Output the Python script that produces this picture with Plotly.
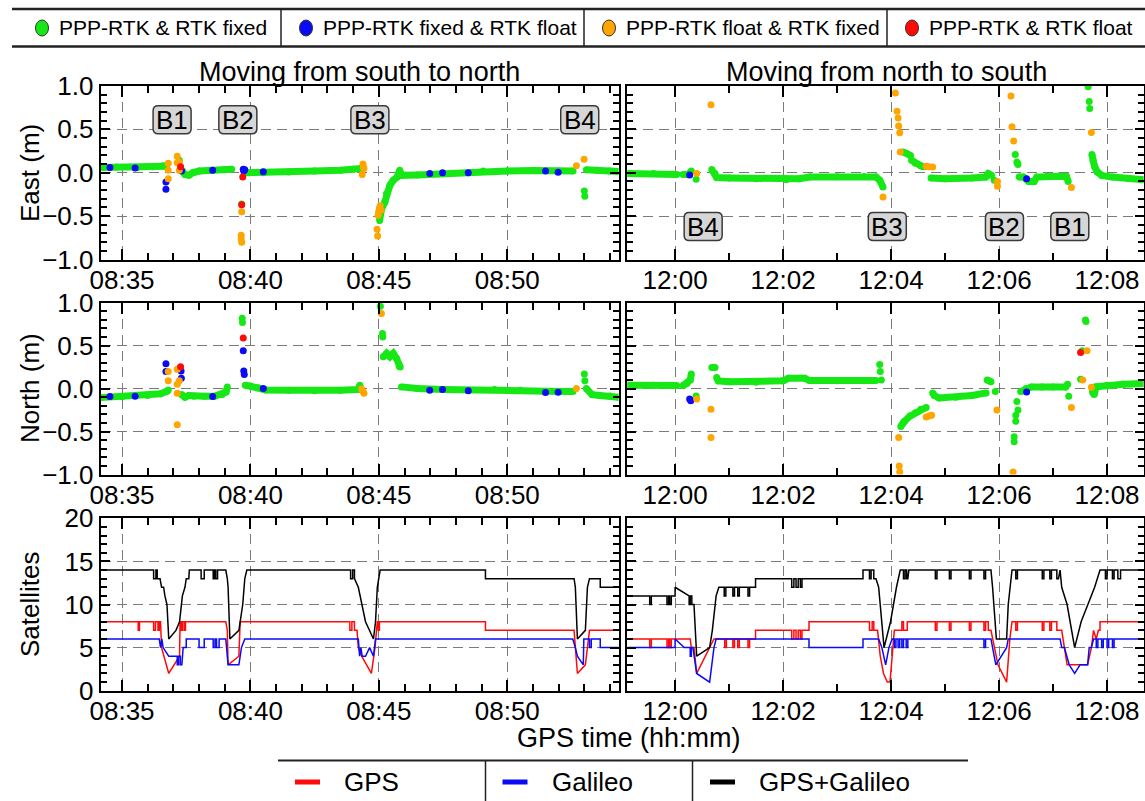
import pandas as pd
import plotly.graph_objects as go

FONT = "Liberation Sans, Arial, Helvetica, sans-serif"
W, H = 1145, 801
DAY = "2021-03-01"
BASE_L = pd.Timestamp(f"{DAY} 08:35:00")   # left column: minutes after 08:35
BASE_R = pd.Timestamp(f"{DAY} 12:00:00")   # right column: minutes after 12:00

GREEN, BLUE, ORANGE, RED = "#16e816", "#0a0af5", "#ffa500", "#ff0a0a"

# ---------------- data: (minutes, value) pairs, None = gap ----------------
# East, south->north (left)
east_l_fix = [(-0.83, 0.06), (-0.2, 0.065), (0.6, 0.06), (1.2, 0.07), (1.6, 0.08), (1.72, 0.075), None,
              (2.23, 0.145), None,
              (2.28, 0.05), (2.35, 0.02), (2.45, -0.02), (2.6, -0.03), (2.75, 0.0), (3.0, 0.02), (3.5, 0.03),
              (4.0, 0.035), (4.27, 0.04), None,
              (4.66, -0.36), None,
              (4.8, 0.0), (5.5, 0.0), (6.5, 0.01), (7.5, 0.02), (8.5, 0.03), (9.0, 0.04), (9.3, 0.05), None,
              (10.03, -0.55), (10.1, -0.42), (10.23, -0.34), (10.3, -0.24), (10.43, -0.145), (10.56, -0.087),
              (10.71, -0.05), (10.81, 0.03), (10.88, -0.03), (11.5, -0.025), (12.5, -0.01), (13.5, 0.0),
              (14.06, 0.02), (15.0, 0.02), (16.0, 0.025), (17.0, 0.02), (17.56, 0.02), None,
              (18.0, -0.21), None, (18.02, -0.27), None,
              (18.08, 0.035), (18.5, 0.03), (19.0, 0.02), (19.33, 0.015)]
east_l_pppfix_rtkfloat = [(-0.47, 0.06), (0.51, 0.056), (1.71, -0.106), (1.71, -0.19), (2.32, 0.02), (3.53, 0.03),
                          (4.72, 0.04), (4.74, 0.02), (4.78, 0.035), (5.5, 0.012), (11.98, -0.01), (12.48, 0.0),
                          (13.48, 0.0), (16.49, 0.02), (16.98, 0.005)]
east_l_pppfloat_rtkfix = [(1.8, 0.11), (1.8, 0.03), (1.8, -0.07), (2.15, 0.19), (2.15, 0.115), (2.23, 0.125),
                          (2.23, 0.03), (4.64, -0.72), (4.64, -0.76), (4.66, -0.8), (4.66, -0.45), (9.35, -0.02),
                          (9.38, 0.1), (9.4, 0.07), (9.42, 0.05), (9.93, -0.65), (9.95, -0.73), (9.97, -0.49),
                          (9.99, -0.45), (10.02, -0.41), (10.05, -0.38), (10.08, -0.43), (17.69, 0.08), (17.99, 0.155)]
east_l_float = [(2.28, 0.07), (4.66, -0.37), (4.70, -0.05)]

# East, north->south (right)
east_r_fix = [(-0.88, -0.01), (-0.4, -0.01), (0.0, -0.02), (0.03, -0.02), None,
              (0.15, -0.02), (0.25, -0.02), (0.3, 0.02), None,
              (0.39, -0.075), None,
              (0.68, 0.037), (0.74, -0.01), (0.77, -0.056), (1.0, -0.06), (1.5, -0.07), (2.06, -0.08), (2.3, -0.07),
              (2.49, -0.05), (3.0, -0.045), (3.5, -0.045), (3.72, -0.05), (3.79, -0.087), (3.85, -0.165), None,
              (4.22, 0.24), (4.3, 0.22), (4.36, 0.2), None,
              (4.38, 0.145), (4.45, 0.11), (4.55, 0.08), (4.6, 0.07), None,
              (4.74, -0.06), (5.0, -0.07), (5.5, -0.06), (5.75, -0.05), (5.8, -0.01), (5.86, -0.03), None,
              (5.91, -0.087), None,
              (6.30, 0.21), None,
              (6.33, 0.125), (6.35, 0.095), None,
              (6.37, -0.05), (6.45, -0.05), (6.55, -0.1), (6.65, -0.1), (6.7, -0.05), (6.9, -0.04), (7.1, -0.04),
              (7.25, -0.045), (7.28, -0.1), None,
              (7.65, 0.99), None, (7.67, 0.82), None, (7.68, 0.74), None,
              (7.72, 0.21), (7.74, 0.14), (7.77, 0.07), (7.82, 0.01), (7.9, -0.03), (8.1, -0.05), (8.4, -0.07),
              (8.68, -0.08)]
east_r_pppfix_rtkfloat = [(0.27, -0.025), (6.51, -0.07)]
east_r_pppfloat_rtkfix = [(0.40, -0.01), (0.665, 0.785), (3.85, -0.28), (4.08, 0.92), (4.11, 0.71), (4.13, 0.63),
                          (4.14, 0.54), (4.16, 0.46), (4.17, 0.24), (4.65, 0.075), (4.7, 0.07), (4.77, 0.065),
                          (5.97, -0.1), (5.97, -0.155), (6.22, 0.885), (6.24, 0.53), (6.27, 0.365), (7.34, -0.17),
                          (7.71, 0.465)]
east_r_float = []

# North, south->north (left)
north_l_fix = [(-0.83, -0.105), (0.0, -0.095), (1.0, -0.08), (1.5, -0.06), (1.75, -0.03), (1.8, -0.015), None,
               (2.32, -0.07), (2.45, -0.1), (2.6, -0.08), (2.8, -0.09), (3.2, -0.09), (3.6, -0.09), (3.9, -0.07),
               (4.05, -0.04), (4.1, 0.02), None,
               (4.68, 0.82), None, (4.69, 0.77), None,
               (4.8, 0.04), (5.0, 0.03), (5.3, 0.01), (5.6, -0.015), (6.5, -0.02), (7.5, -0.025), (8.5, -0.02),
               (9.2, -0.01), (9.26, 0.04), None,
               (10.06, 0.96), None, (10.14, 0.64), None, (10.15, 0.6), None,
               (10.17, 0.37), (10.3, 0.41), (10.43, 0.37), (10.56, 0.41), (10.69, 0.35), (10.79, 0.26),
               (10.83, 0.25), None,
               (10.88, 0.02), (11.5, 0.0), (12.5, -0.01), (13.5, -0.02), (14.5, -0.01), (15.5, -0.02),
               (16.5, -0.03), (17.56, -0.035), None,
               (18.0, 0.17), None, (18.02, 0.09), None,
               (18.08, 0.0), (18.3, -0.07), (18.6, -0.08), (19.0, -0.085), (19.33, -0.1)]
north_l_pppfix_rtkfloat = [(-0.47, -0.093), (0.51, -0.09), (1.71, 0.29), (1.71, 0.2), (2.30, 0.205), (2.31, 0.12),
                           (3.53, -0.093), (4.72, 0.44), (4.74, 0.205), (4.76, 0.165), (5.5, 0.0), (11.98, -0.02),
                           (12.48, -0.01), (13.48, -0.025), (16.49, -0.045), (16.98, -0.042)]
north_l_pppfloat_rtkfix = [(1.8, 0.2), (1.8, 0.09), (2.15, 0.225), (2.15, 0.05), (2.15, -0.055), (2.15, -0.42),
                           (2.23, 0.09), (9.33, -0.005), (9.38, -0.03), (9.42, -0.055), (10.1, 0.875), (17.69, 0.0)]
north_l_float = [(2.28, 0.255), (4.72, 0.59)]

# North, north->south (right)
north_r_fix = [(-0.88, 0.04), (-0.4, 0.04), (0.03, 0.035), None,
               (0.15, 0.035), (0.22, 0.06), (0.28, 0.1), (0.3, 0.17), None,
               (0.39, -0.085), None,
               (0.68, 0.245), (0.74, 0.245), None,
               (0.77, 0.13), (0.8, 0.09), (1.0, 0.08), (1.5, 0.075), (2.0, 0.09), (2.1, 0.12), (2.4, 0.12),
               (2.49, 0.093), (3.0, 0.09), (3.5, 0.09), (3.72, 0.095), None,
               (3.79, 0.28), None, (3.8, 0.2), None, (3.82, 0.1), None,
               (4.18, -0.44), (4.22, -0.4), (4.25, -0.38), (4.35, -0.32), (4.45, -0.28), (4.55, -0.24),
               (4.65, -0.22), None,
               (4.77, -0.05), (4.8, -0.08), (4.89, -0.11), (5.2, -0.1), (5.5, -0.08), (5.76, -0.05), None,
               (5.78, 0.1), (5.85, 0.08), None,
               (5.93, -0.035), None,
               (6.28, -0.56), None, (6.28, -0.62), None, (6.31, -0.31), None, (6.31, -0.38), None,
               (6.33, -0.15), None, (6.35, -0.25), None,
               (6.4, -0.035), (6.5, 0.0), (6.6, 0.02), (6.8, 0.02), (7.0, 0.02), (7.23, 0.02), (7.27, 0.05), None,
               (7.29, -0.09), None, (7.51, 0.11), None, (7.54, 0.44), None, (7.6, 0.8), None, (7.61, 0.78), None,
               (7.73, -0.04), (7.76, -0.07), (7.8, 0.02), (8.0, 0.04), (8.3, 0.05), (8.68, 0.06)]
north_r_pppfix_rtkfloat = [(0.27, -0.12), (0.29, -0.14), (6.51, -0.04)]
north_r_pppfloat_rtkfix = [(0.40, -0.12), (0.665, -0.24), (0.665, -0.57), (4.14, -0.57), (4.15, -0.9),
                           (4.16, -0.97), (4.65, -0.33), (4.7, -0.32), (4.75, -0.31), (5.96, -0.25), (6.26, -0.97),
                           (7.34, -0.22), (7.55, 0.1), (7.63, 0.44), (7.71, 0.015)]
north_r_float = [(7.51, 0.42)]

# Satellites, left
sat_l_all = [(-0.83, 14), (1.23, 14), (1.23, 13), (1.32, 13), (1.32, 14), (1.37, 14), (1.37, 13), (1.48, 13),
             (1.54, 12), (1.62, 12), (1.67, 11), (1.75, 10), (1.82, 6), (2.1, 7), (2.24, 8), (2.3, 10), (2.35, 11),
             (2.45, 12), (2.5, 13), (2.6, 13), (2.62, 14), (3.08, 14), (3.08, 13), (3.2, 13), (3.2, 14), (3.55, 14),
             (3.55, 13), (3.6, 13), (3.6, 14), (3.65, 14), (3.65, 13), (3.72, 13), (3.72, 14), (4.04, 14),
             (4.1, 13), (4.13, 12), (4.2, 6), (4.55, 7), (4.6, 8), (4.7, 10), (4.78, 13), (4.86, 14), (8.9, 14),
             (8.9, 13), (8.98, 13), (8.98, 14), (9.05, 14), (9.05, 13), (9.2, 12), (9.33, 10), (9.4, 9), (9.48, 8),
             (9.79, 6), (9.87, 8), (9.94, 12), (10.0, 13), (10.05, 14), (14.15, 14), (14.15, 13), (17.6, 13),
             (17.65, 12), (17.73, 6), (18.04, 7), (18.12, 12), (18.2, 13), (18.62, 13), (18.62, 12), (19.33, 12)]
sat_l_gps = [(-0.83, 8), (0.63, 8), (0.63, 7), (0.68, 7), (0.68, 8), (1.23, 8), (1.23, 7), (1.3, 7), (1.3, 8),
             (1.4, 8), (1.4, 7), (1.45, 7), (1.45, 8), (1.5, 8), (1.54, 5), (1.82, 2), (2.24, 4), (2.26, 8),
             (2.3, 8), (2.3, 7), (2.35, 7), (2.35, 8), (2.42, 8), (2.42, 7), (2.47, 7), (2.47, 8), (4.04, 8),
             (4.1, 7), (4.13, 3), (4.55, 4), (4.6, 8), (8.87, 8), (8.87, 7), (8.95, 7), (8.95, 8), (9.05, 8),
             (9.05, 7), (9.15, 7), (9.2, 5), (9.33, 4), (9.71, 2), (9.85, 5), (9.94, 8), (9.98, 8), (9.98, 7),
             (10.02, 7), (10.02, 8), (14.15, 8), (14.15, 7), (17.6, 7), (17.73, 2), (18.04, 3), (18.2, 7),
             (19.33, 7)]
sat_l_gal = [(-0.83, 6), (1.45, 6), (1.5, 5), (1.55, 6), (1.6, 5), (1.82, 4), (2.15, 4), (2.15, 3), (2.2, 3),
             (2.2, 4), (2.27, 4), (2.27, 3), (2.33, 3), (2.38, 5), (2.5, 5), (2.5, 6), (3.0, 6), (3.0, 5), (3.2, 5),
             (3.2, 6), (3.55, 6), (3.55, 5), (3.62, 5), (3.62, 6), (3.68, 6), (3.68, 5), (3.78, 5), (3.78, 6),
             (4.04, 6), (4.13, 3), (4.55, 3), (4.6, 4), (4.65, 5), (4.78, 6), (9.2, 6), (9.25, 4), (9.3, 5),
             (9.35, 4), (9.48, 4), (9.64, 5), (9.79, 4), (9.87, 6), (17.55, 6), (17.65, 5), (17.73, 4), (17.96, 3),
             (17.98, 6), (18.2, 6), (18.2, 5), (18.27, 5), (18.27, 6), (18.62, 6), (18.62, 5), (19.33, 5)]

# Satellites, right
sat_r_all = [(-0.88, 11), (-0.47, 11), (-0.47, 10), (-0.44, 10), (-0.44, 11), (-0.15, 11), (-0.15, 10), (-0.12, 10),
             (-0.12, 11), (-0.1, 11), (-0.1, 10), (-0.07, 10), (-0.07, 11), (0.0, 11), (0.0, 12), (0.24, 11),
             (0.26, 11), (0.26, 10), (0.28, 10), (0.28, 11), (0.31, 11), (0.31, 10), (0.35, 10), (0.4, 4),
             (0.64, 5), (0.69, 7), (0.72, 9), (0.76, 11), (0.81, 12), (0.91, 12), (0.91, 11), (0.94, 11),
             (0.94, 12), (1.07, 12), (1.07, 11), (1.1, 11), (1.1, 12), (1.16, 12), (1.16, 11), (1.19, 11),
             (1.19, 12), (1.35, 12), (1.35, 11), (1.38, 11), (1.38, 12), (1.49, 12), (1.49, 13), (2.16, 13),
             (2.16, 12), (2.2, 12), (2.2, 13), (2.24, 13), (2.24, 12), (2.28, 12), (2.28, 13), (2.32, 13),
             (2.32, 12), (2.35, 12), (2.35, 13), (3.48, 13), (3.48, 14), (3.6, 14), (3.6, 13), (3.63, 13),
             (3.63, 14), (3.68, 14), (3.68, 13), (3.72, 13), (3.77, 12), (3.83, 8), (3.87, 5), (3.99, 8),
             (4.04, 10), (4.1, 12), (4.17, 14), (4.23, 14), (4.23, 13), (4.26, 13), (4.26, 14), (4.29, 14),
             (4.29, 13), (4.31, 13), (4.33, 14), (4.82, 14), (4.82, 13), (4.85, 13), (4.85, 14), (5.08, 14),
             (5.08, 13), (5.11, 13), (5.11, 14), (5.45, 14), (5.45, 13), (5.48, 13), (5.48, 14), (5.72, 14),
             (5.72, 13), (5.75, 13), (5.75, 14), (5.85, 14), (5.88, 12), (5.95, 6), (6.14, 6), (6.17, 10),
             (6.24, 14), (6.31, 14), (6.31, 13), (6.34, 13), (6.34, 14), (6.8, 14), (6.8, 13), (6.83, 13),
             (6.83, 14), (6.94, 14), (6.94, 13), (6.97, 13), (6.97, 14), (7.07, 14), (7.07, 13), (7.1, 13),
             (7.13, 14), (7.16, 12), (7.26, 10), (7.4, 5), (7.52, 8), (7.64, 10), (7.77, 12), (7.87, 14),
             (7.97, 14), (7.97, 13), (8.0, 13), (8.0, 14), (8.1, 14), (8.1, 13), (8.13, 13), (8.13, 14),
             (8.2, 14), (8.2, 13), (8.25, 13), (8.25, 14), (8.68, 14)]
sat_r_gps = [(-0.88, 6), (-0.47, 6), (-0.47, 5), (-0.44, 5), (-0.44, 6), (-0.15, 6), (-0.15, 5), (-0.12, 5),
             (-0.12, 6), (-0.1, 6), (-0.1, 5), (-0.07, 5), (-0.07, 6), (0.28, 6), (0.3, 5), (0.35, 5), (0.4, 2),
             (0.64, 5), (0.72, 6), (0.92, 6), (0.92, 5), (0.95, 5), (0.95, 6), (1.07, 6), (1.07, 5), (1.1, 5),
             (1.1, 6), (1.16, 6), (1.16, 5), (1.19, 5), (1.19, 6), (1.35, 6), (1.35, 5), (1.38, 5), (1.38, 6),
             (1.49, 6), (1.49, 7), (2.16, 7), (2.16, 6), (2.2, 6), (2.2, 7), (2.24, 7), (2.24, 6), (2.28, 6),
             (2.28, 7), (2.32, 7), (2.32, 6), (2.35, 6), (2.35, 7), (2.48, 7), (2.48, 8), (3.6, 8), (3.6, 7),
             (3.65, 7), (3.65, 8), (3.68, 8), (3.68, 7), (3.75, 7), (3.8, 4), (3.86, 2), (3.93, 1), (3.98, 1),
             (4.02, 4), (4.06, 7), (4.2, 7), (4.2, 8), (4.23, 8), (4.23, 7), (4.3, 7), (4.3, 8), (4.82, 8),
             (4.82, 7), (4.85, 7), (4.85, 8), (5.08, 8), (5.08, 7), (5.11, 7), (5.11, 8), (5.45, 8), (5.45, 7),
             (5.48, 7), (5.48, 8), (5.72, 8), (5.72, 7), (5.75, 7), (5.75, 8), (5.8, 8), (5.8, 7), (5.85, 7),
             (5.88, 6), (5.98, 3), (6.14, 1), (6.2, 6), (6.24, 8), (6.31, 8), (6.31, 7), (6.34, 7), (6.34, 8),
             (6.8, 8), (6.8, 7), (6.83, 7), (6.83, 8), (6.94, 8), (6.94, 7), (6.97, 7), (6.97, 8), (7.07, 8),
             (7.07, 7), (7.1, 7), (7.16, 7), (7.21, 5), (7.26, 3), (7.64, 3), (7.71, 5), (7.75, 7), (7.8, 6),
             (7.84, 7), (7.87, 7), (7.87, 8), (8.68, 8)]
sat_r_gal = [(-0.88, 5), (0.0, 5), (0.0, 6), (0.17, 5), (0.28, 5), (0.28, 4), (0.3, 4), (0.3, 5), (0.33, 5),
             (0.35, 4), (0.4, 2), (0.64, 1), (0.69, 4), (0.72, 5), (0.76, 6), (2.48, 6), (2.48, 5), (3.48, 5),
             (3.48, 6), (3.77, 6), (3.83, 5), (3.86, 4), (3.9, 3), (3.96, 5), (4.02, 6), (4.06, 6), (4.06, 5),
             (4.09, 5), (4.09, 6), (4.13, 6), (4.13, 5), (4.16, 5), (4.16, 6), (4.2, 6), (4.2, 5), (4.23, 5),
             (4.23, 6), (4.28, 6), (4.28, 5), (4.31, 5), (4.31, 6), (5.72, 6), (5.72, 5), (5.75, 5), (5.75, 6),
             (5.85, 6), (5.88, 5), (5.94, 3), (6.14, 5), (6.17, 6), (7.13, 6), (7.16, 5), (7.21, 5), (7.3, 3),
             (7.4, 2), (7.5, 3), (7.64, 3), (7.67, 5), (7.71, 5), (7.75, 6), (7.8, 6), (7.8, 5), (7.83, 5),
             (7.83, 6), (7.9, 6), (7.9, 5), (7.93, 5), (7.93, 6), (8.0, 6), (8.0, 5), (8.03, 5), (8.03, 6),
             (8.1, 6), (8.1, 5), (8.13, 5), (8.13, 6), (8.68, 6)]

# bridge labels (minutes, panel value)
bridges_l = [("B1", 1.95), ("B2", 4.51), ("B3", 9.65), ("B4", 17.82)]
bridges_r = [("B4", 0.52), ("B3", 3.93), ("B2", 6.10), ("B1", 7.31)]

legend_top = [("PPP-RTK & RTK fixed", GREEN), ("PPP-RTK fixed & RTK float", BLUE),
              ("PPP-RTK float & RTK fixed", ORANGE), ("PPP-RTK & RTK float", RED)]
legend_bottom = [("GPS", RED), ("Galileo", BLUE), ("GPS+Galileo", "black")]

# ---------------- helpers ----------------
def ts(base, m):
    return (base + pd.Timedelta(minutes=m)).strftime("%Y-%m-%d %H:%M:%S.%f")[:-3]

def unzip(pairs, base):
    t, v = [], []
    for p in pairs:
        if p is None:
            t.append(None); v.append(None)
        else:
            t.append(ts(base, p[0])); v.append(p[1])
    return t, v

def px(x):
    return x / W

def py(y):
    return 1 - y / H

fig = go.Figure()

def add_points(pairs, base, color, xa, ya, trail=False):
    if not pairs:
        return
    t, v = unzip(pairs, base)
    fig.add_trace(go.Scatter(x=t, y=v, xaxis=xa, yaxis=ya,
                             mode="lines+markers" if trail else "markers",
                             line=dict(color=color, width=7),
                             marker=dict(color=color, size=7, line=dict(width=0)),
                             showlegend=False, hoverinfo="skip"))

def add_line(pairs, base, color, xa, ya):
    t, v = unzip(pairs, base)
    fig.add_trace(go.Scatter(x=t, y=v, xaxis=xa, yaxis=ya, mode="lines",
                             line=dict(color=color, width=1.5), showlegend=False, hoverinfo="skip"))

panels = [
    (east_l_fix, east_l_pppfix_rtkfloat, east_l_pppfloat_rtkfix, east_l_float, BASE_L, "x", "y"),
    (east_r_fix, east_r_pppfix_rtkfloat, east_r_pppfloat_rtkfix, east_r_float, BASE_R, "x2", "y2"),
    (north_l_fix, north_l_pppfix_rtkfloat, north_l_pppfloat_rtkfix, north_l_float, BASE_L, "x3", "y3"),
    (north_r_fix, north_r_pppfix_rtkfloat, north_r_pppfloat_rtkfix, north_r_float, BASE_R, "x4", "y4"),
]
for fix, fb, ff, fl, base, xa, ya in panels:
    add_points(fix, base, GREEN, xa, ya, trail=True)
    add_points(fb, base, BLUE, xa, ya)
    add_points(ff, base, ORANGE, xa, ya)
    add_points(fl, base, RED, xa, ya)

for gps, gal, allc, base, xa, ya in [(sat_l_gps, sat_l_gal, sat_l_all, BASE_L, "x5", "y5"),
                                     (sat_r_gps, sat_r_gal, sat_r_all, BASE_R, "x6", "y6")]:
    add_line(gps, base, RED, xa, ya)
    add_line(gal, base, BLUE, xa, ya)
    add_line(allc, base, "black", xa, ya)

# ---------------- axes ----------------
XL = [px(100.7), px(618.5)]
XR = [px(627.3), px(1143.5)]
ROWS = [[py(259.5), py(86)], [py(474.5), py(302.7)], [py(690.7), py(518.3)]]
TICKFONT = dict(family=FONT, size=26, color="black")
GRID = dict(showgrid=True, gridcolor="#7a7a7a", gridwidth=1, griddash="10px,6px")

def xaxis(dom, anchor, base, rng, dtick_min):
    return dict(domain=dom, anchor=anchor, type="date", range=rng, tickformat="%H:%M",
                tick0=ts(base, 0), dtick=dtick_min * 60000, ticks="inside", ticklen=11, tickwidth=1.5,
                tickcolor="black", showline=True, linecolor="black", linewidth=2, mirror="ticks",
                zeroline=False, tickfont=TICKFONT, ticklabelstandoff=-4, automargin=False,
                minor=dict(dtick=60000, tick0=ts(base, 0), ticks="inside", ticklen=7, tickwidth=1.5,
                           tickcolor="black", showgrid=False), **GRID)

def yaxis(dom, anchor, rng, dtick, mdtick, labels, fmt):
    return dict(domain=dom, anchor=anchor, range=rng, dtick=dtick, tick0=0, ticks="inside", ticklen=9,
                tickwidth=1.5, tickcolor="black", showline=True, linecolor="black", linewidth=2,
                mirror="ticks", zeroline=False, tickfont=TICKFONT, showticklabels=labels, tickformat=fmt,
                ticklabelstandoff=0, automargin=False,
                minor=dict(dtick=mdtick, tick0=0, ticks="inside", ticklen=6, tickwidth=1.5,
                           tickcolor="black", showgrid=False), **GRID)

RNG_L = [ts(BASE_L, -0.83), ts(BASE_L, 19.33)]
RNG_R = [ts(BASE_R, -0.885), ts(BASE_R, 8.675)]

layout = dict(
    template="none",
    width=W, height=H, margin=dict(l=0, r=0, t=0, b=0, pad=0, autoexpand=False),
    paper_bgcolor="white", plot_bgcolor="white", showlegend=False,
    font=dict(family=FONT, color="black"),
    xaxis=xaxis(XL, "y", BASE_L, RNG_L, 5), yaxis=yaxis(ROWS[0], "x", [-1, 1], 0.5, 0.1, True, ".1f"),
    xaxis2=xaxis(XR, "y2", BASE_R, RNG_R, 2), yaxis2=yaxis(ROWS[0], "x2", [-1, 1], 0.5, 0.1, False, ".1f"),
    xaxis3=xaxis(XL, "y3", BASE_L, RNG_L, 5), yaxis3=yaxis(ROWS[1], "x3", [-1, 1], 0.5, 0.1, True, ".1f"),
    xaxis4=xaxis(XR, "y4", BASE_R, RNG_R, 2), yaxis4=yaxis(ROWS[1], "x4", [-1, 1], 0.5, 0.1, False, ".1f"),
    xaxis5=xaxis(XL, "y5", BASE_L, RNG_L, 5), yaxis5=yaxis(ROWS[2], "x5", [0, 20], 5, 1, True, "d"),
    xaxis6=xaxis(XR, "y6", BASE_R, RNG_R, 2), yaxis6=yaxis(ROWS[2], "x6", [0, 20], 5, 1, False, "d"),
)
fig.update_layout(**layout)

annotations = []
shapes = []

def text(x, y, s, size, xanchor="center", angle=0):
    annotations.append(dict(x=x, y=y, xref="paper", yref="paper", text=s, showarrow=False,
                            xanchor=xanchor, yanchor="middle", textangle=angle,
                            font=dict(family=FONT, size=size, color="black")))

# titles
text(px(359), py(72), "Moving from south to north", 27)
text(px(886), py(72), "Moving from north to south", 27)
text(px(629), py(738), "GPS time (hh:mm)", 27)
text(px(30), py(173), "East (m)", 26, angle=-90)
text(px(30), py(388), "North (m)", 26, angle=-90)
text(px(30), py(604), "Satellites", 26, angle=-90)

# bridge labels
def rounded_path(w, h, r):
    a, b = w / 2, h / 2
    return (f"M {-a + r},{-b} L {a - r},{-b} Q {a},{-b} {a},{-b + r} L {a},{b - r} Q {a},{b} {a - r},{b} "
            f"L {-a + r},{b} Q {-a},{b} {-a},{b - r} L {-a},{-b + r} Q {-a},{-b} {-a + r},{-b} Z")

BOX = rounded_path(38, 28, 5)
for labels, base, xr, yr, yv in [(bridges_l, BASE_L, "x", "y", 0.61), (bridges_r, BASE_R, "x2", "y2", -0.62)]:
    for lab, m in labels:
        shapes.append(dict(type="path", path=BOX, xref=xr, yref=yr, xsizemode="pixel", ysizemode="pixel",
                           xanchor=ts(base, m), yanchor=yv, fillcolor="#d6d6d6",
                           line=dict(color="#3a3a3a", width=1.5), layer="above"))
        annotations.append(dict(x=ts(base, m), y=yv, xref=xr, yref=yr, text=lab, showarrow=False,
                                xanchor="center", yanchor="middle",
                                font=dict(family=FONT, size=26, color="black")))

# top legend
LINE = dict(color="#222222", width=2.5)
shapes.append(dict(type="line", xref="paper", yref="paper", x0=px(12), x1=px(1145), y0=py(9), y1=py(9), line=LINE))
shapes.append(dict(type="line", xref="paper", yref="paper", x0=px(12), x1=px(1145), y0=py(46.5), y1=py(46.5), line=LINE))
for sx in [281, 584, 887]:
    shapes.append(dict(type="line", xref="paper", yref="paper", x0=px(sx), x1=px(sx), y0=py(9), y1=py(46.5),
                       line=dict(color="#222222", width=1.5)))
for (lab, col), cx in zip(legend_top, [42, 306, 609, 912]):
    shapes.append(dict(type="circle", xref="paper", yref="paper", xsizemode="pixel", ysizemode="pixel",
                       xanchor=px(cx), yanchor=py(28), x0=-6.5, x1=6.5, y0=-8, y1=8, fillcolor=col,
                       line=dict(color="#333333", width=1)))
    text(px(cx + 15), py(28), lab, 21, xanchor="left")

# bottom legend
shapes.append(dict(type="line", xref="paper", yref="paper", x0=px(278), x1=px(968), y0=py(760.5), y1=py(760.5),
                   line=dict(color="#222222", width=2)))
for sx in [485.5, 692.5]:
    shapes.append(dict(type="line", xref="paper", yref="paper", x0=px(sx), x1=px(sx), y0=py(760.5), y1=py(801),
                       line=dict(color="#222222", width=1.5)))
for i, (lab, col) in enumerate(legend_bottom):
    x0 = 295 + i * 207.5
    shapes.append(dict(type="line", xref="paper", yref="paper", x0=px(x0), x1=px(x0 + 25), y0=py(782), y1=py(782),
                       line=dict(color=col, width=5)))
    text(px(x0 + 47), py(782), lab, 26, xanchor="left")

fig.update_layout(annotations=annotations, shapes=shapes)
fig.write_html("out.html")
